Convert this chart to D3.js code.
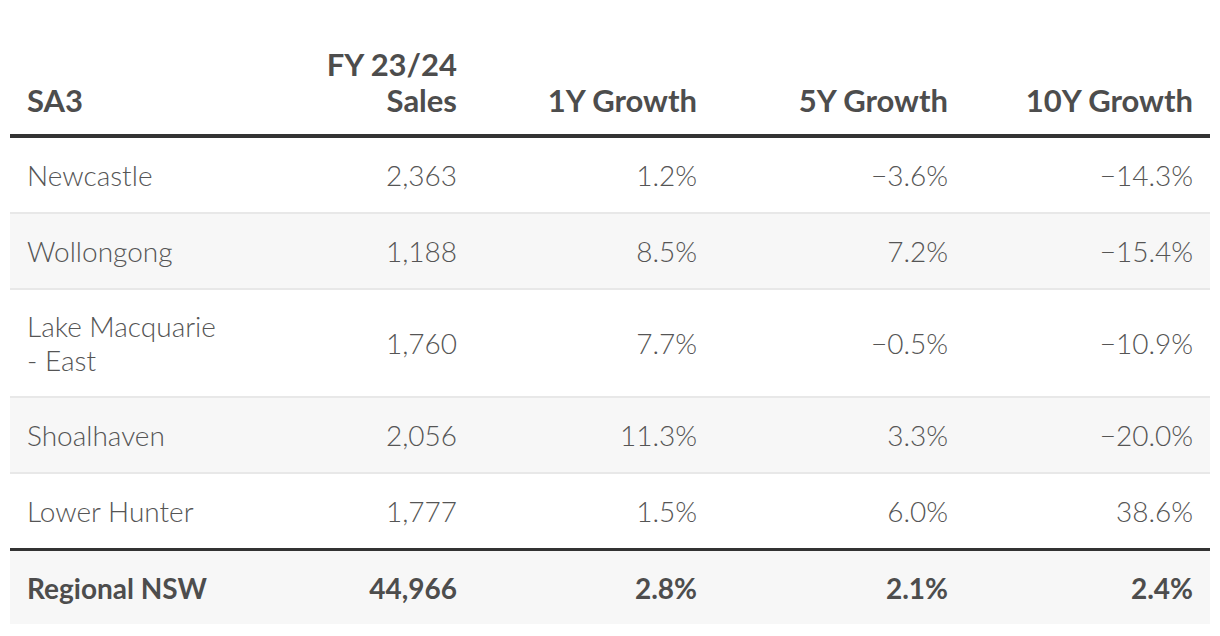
<!DOCTYPE html>
<html>
<head>
<meta charset="utf-8">
<script src="https://cdn.jsdelivr.net/npm/d3@7"></script>
<style>
  html, body { margin: 0; padding: 0; background: #ffffff; }
  svg { display: block; }
  text { font-family: Lato, "Open Sans", sans-serif; }
  text.light { font-family: "Lato Light", "Lato Hairline", Lato, sans-serif; font-weight: 300; }
</style>
</head>
<body>
<svg id="chart" width="1220" height="636"></svg>
<script>
// ---- data ----
const headers = [["SA3"], ["FY 23/24", "Sales"], ["1Y Growth"], ["5Y Growth"], ["10Y Growth"]];
const regions = [["Newcastle"], ["Wollongong"], ["Lake Macquarie", "- East"], ["Shoalhaven"], ["Lower Hunter"]];
const sales = [2363, 1188, 1760, 2056, 1777];
const growth1y = [0.012, 0.085, 0.077, 0.113, 0.015];
const growth5y = [-0.036, 0.072, -0.005, 0.033, 0.060];
const growth10y = [-0.143, -0.154, -0.109, -0.200, 0.386];
const totalLabel = "Regional NSW";
const totalSales = 44966;
const totalGrowth = [0.028, 0.021, 0.024];

// ---- layout ----
const W = 1220, H = 636;
const left = 10, right = 1210;
const colX = [27, 457, 697, 948, 1193];     // text anchors (first left, rest right)
const headLineY = 134, thick = 4;
const rowBase = 74, lineExtra = 32, sep = 2;
const fmtN = d3.format(",");
const fmtP = d3.format(".1%");
const textCol = "#555555";
const bodySize = 28, headSize = 31;

const svg = d3.select("#chart");

// header
const hg = svg.append("g");
headers.forEach((lines, c) => {
  const t = hg.append("text")
    .attr("x", colX[c])
    .attr("text-anchor", c === 0 ? "start" : "end")
    .attr("font-weight", 700)
    .attr("font-size", headSize)
    .attr("fill", "#4d4d4d");
  const n = lines.length;
  lines.forEach((s, i) => {
    t.append("tspan").attr("x", colX[c]).attr("y", 112 - (n - 1 - i) * 36).text(s);
  });
});
svg.append("rect").attr("x", left).attr("y", headLineY).attr("width", right - left).attr("height", thick).attr("fill", "#333333");

// body rows
const rows = regions.map((r, i) => ({
  name: r, vals: [fmtN(sales[i]), fmtP(growth1y[i]), fmtP(growth5y[i]), fmtP(growth10y[i])]
}));
let y = headLineY + thick;
rows.forEach((d, i) => {
  const h = rowBase + (d.name.length - 1) * lineExtra;
  const last = i === rows.length - 1;
  if (i % 2 === 1) {
    svg.append("rect").attr("x", left).attr("y", y).attr("width", right - left).attr("height", h + (last ? 0 : sep)).attr("fill", "#f7f7f7");
  }
  if (!last) {
    svg.append("rect").attr("x", left).attr("y", y + h).attr("width", right - left).attr("height", sep).attr("fill", "#e8e8e8");
  }
  const cy = y + h / 2 + 1.5;
  const n = d.name.length;
  const nt = svg.append("text").attr("class", "light").attr("x", colX[0]).attr("font-size", bodySize).attr("fill", textCol);
  d.name.forEach((s, k) => {
    nt.append("tspan").attr("x", colX[0]).attr("y", cy + (k - (n - 1) / 2) * 34).attr("dy", "0.35em").text(s);
  });
  d.vals.forEach((v, k) => {
    svg.append("text").attr("class", "light").attr("x", colX[k + 1]).attr("y", cy).attr("dy", "0.35em")
      .attr("text-anchor", "end").attr("font-size", bodySize).attr("fill", textCol).text(v);
  });
  y += h + (last ? 0 : sep);
});

// total row
svg.append("rect").attr("x", left).attr("y", y).attr("width", right - left).attr("height", 3).attr("fill", "#333333");
y += 3;
const th = 73;
svg.append("rect").attr("x", left).attr("y", y).attr("width", right - left).attr("height", th).attr("fill", "#f7f7f7");
const tcy = y + th / 2 + 1.5;
const totalVals = [totalLabel, fmtN(totalSales)].concat(totalGrowth.map(fmtP));
totalVals.forEach((v, k) => {
  svg.append("text").attr("x", colX[k]).attr("y", tcy).attr("dy", "0.35em")
    .attr("text-anchor", k === 0 ? "start" : "end")
    .attr("font-weight", 700).attr("font-size", bodySize).attr("fill", "#4d4d4d").text(v);
});
</script>
</body>
</html>
